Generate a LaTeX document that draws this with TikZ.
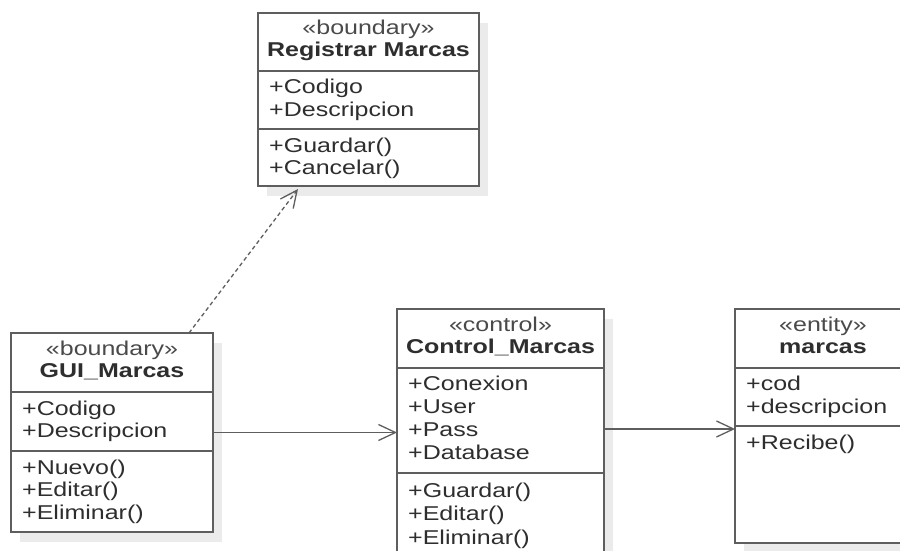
\documentclass[tikz,border=0pt]{standalone}
\usepackage{fontspec}
\setmainfont{Liberation Sans}[FakeStretch=1.25]
\usetikzlibrary{arrows.meta,shadows}
\definecolor{linec}{HTML}{5E5E5E}
\definecolor{txtc}{HTML}{2E2E2E}
\definecolor{stc}{HTML}{4A4A4A}
\definecolor{shadc}{HTML}{EBEBEB}
\begin{document}
\begin{tikzpicture}[x=1pt,y=-1pt,
 box/.style={draw=linec, line width=1.6pt, fill=white, inner sep=0pt, outer sep=0pt,
   general shadow={fill=shadc, shadow xshift=9pt, shadow yshift=-10pt}},
 sepl/.style={draw=linec, line width=1.6pt},
 txt/.style={font=\fontsize{20}{23}\selectfont, text=txtc, inner sep=0pt, anchor=base west},
 st/.style={font=\fontsize{20}{23}\selectfont, text=stc, inner sep=0pt, anchor=base},
 nm/.style={font=\fontsize{20}{23}\selectfont\bfseries, text=txtc, inner sep=0pt, anchor=base},
 assoc/.style={draw=linec, line width=1.3pt, -{Straight Barb[length=17pt,width=16pt]}},
 dep/.style={assoc, dash pattern=on 4pt off 3pt}]
\useasboundingbox (0,0) rectangle (900,551);
\clip (0,0) rectangle (900,551);
\fill[white] (0,0) rectangle (900,551);

% boxes
\node[box, minimum width=221pt, minimum height=173pt] (reg) at (368.5,99.5) {};
\node[box, minimum width=202pt, minimum height=199pt] (gui) at (112,432.5) {};
\node[box, minimum width=207pt, minimum height=291pt] (ctrl) at (500.5,454.5) {};
\node[box, minimum width=176pt, minimum height=234pt] (ent) at (823,426) {};

% separators
\draw[sepl] (reg.west |- 0,71) -- (reg.east |- 0,71);
\draw[sepl] (reg.west |- 0,129) -- (reg.east |- 0,129);
\draw[sepl] (gui.west |- 0,392) -- (gui.east |- 0,392);
\draw[sepl] (gui.west |- 0,451) -- (gui.east |- 0,451);
\draw[sepl] (ctrl.west |- 0,368) -- (ctrl.east |- 0,368);
\draw[sepl] (ctrl.west |- 0,473) -- (ctrl.east |- 0,473);
\draw[sepl] (ent.west |- 0,368) -- (ent.east |- 0,368);
\draw[sepl] (ent.west |- 0,426) -- (ent.east |- 0,426);

% Registrar Marcas
\node[st] (reg-s) at (368.5,35) {«boundary»};
\node[nm] (reg-n) at (368.5,57) {Registrar Marcas};
\node[txt] (reg-a1) at (269,94) {+Codigo};
\node[txt] (reg-a2) at (269,116) {+Descripcion};
\node[txt] (reg-m1) at (269,152) {+Guardar()};
\node[txt] (reg-m2) at (269,174) {+Cancelar()};

% GUI_Marcas
\node[st] (gui-s) at (112,355) {«boundary»};
\node[nm] (gui-n) at (112,377) {GUI\_Marcas};
\node[txt] (gui-a1) at (22,415) {+Codigo};
\node[txt] (gui-a2) at (22,437.5) {+Descripcion};
\node[txt] (gui-m1) at (22,474) {+Nuevo()};
\node[txt] (gui-m2) at (22,496.5) {+Editar()};
\node[txt] (gui-m3) at (22,519) {+Eliminar()};

% Control_Marcas
\node[st] (ctrl-s) at (500.5,331) {«control»};
\node[nm] (ctrl-n) at (500.5,353) {Control\_Marcas};
\node[txt] (ctrl-a1) at (408,390.5) {+Conexion};
\node[txt] (ctrl-a2) at (408,413.5) {+User};
\node[txt] (ctrl-a3) at (408,436.5) {+Pass};
\node[txt] (ctrl-a4) at (408,459.5) {+Database};
\node[txt] (ctrl-m1) at (408,497) {+Guardar()};
\node[txt] (ctrl-m2) at (408,520.5) {+Editar()};
\node[txt] (ctrl-m3) at (408,544) {+Eliminar()};

% marcas
\node[st] (ent-s) at (823,331) {«entity»};
\node[nm] (ent-n) at (823,353) {marcas};
\node[txt] (ent-a1) at (746,390.5) {+cod};
\node[txt] (ent-a2) at (746,413) {+descripcion};
\node[txt] (ent-m1) at (746,449) {+Recibe()};

% connectors
\draw[assoc] (gui.east) -- (gui.east -| ctrl.west);
\coordinate (r2) at ([yshift=-3pt]ent.west);
\draw[assoc] (ctrl.east |- r2) -- (r2);
\coordinate (dstart) at (189,333);
\coordinate (dend) at (298,189);
\draw[dep] (dstart) -- (dend);
\end{tikzpicture}
\end{document}
